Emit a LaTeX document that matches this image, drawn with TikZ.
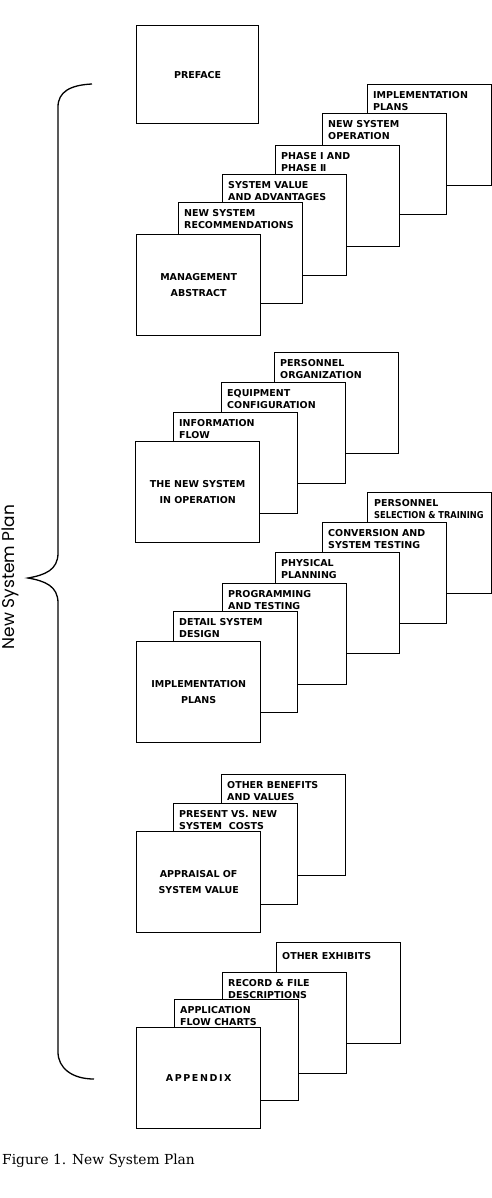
\documentclass[tikz,border=0pt]{standalone}
\usepackage{fontspec}
\setmainfont{DejaVu Serif}
\newfontfamily\pagefont{DejaVu Sans}
\newfontfamily\spinefont{Poppins}
\usetikzlibrary{positioning}
\begin{document}
\begin{tikzpicture}[x=1pt,y=-1pt,
  sheet/.style={draw,fill=white,line width=1.35pt,minimum width=124pt,minimum height=101pt,anchor=north west,inner sep=0pt},
  front/.style={sheet,align=center,font=\pagefont\bfseries\fontsize{9.5}{15.5}\selectfont},
  tab/.style={inner sep=0pt,align=left,font=\pagefont\bfseries\fontsize{9.5}{12.5}\selectfont}]
\useasboundingbox (0,0) rectangle (492,1198);
% brace and the plan's name
\draw[line width=1.3pt] (92,84) .. controls (70,85) and (58,92) .. (58,107) -- (58,553)
  .. controls (58,570) and (45,575) .. (28,578) .. controls (45,581) and (58,586) .. (58,603) -- (58,1052)
  .. controls (58,1068) and (72,1079) .. (94,1079);
\node[rotate=90,font=\spinefont\fontsize{17}{17}\selectfont] (spine) at (10,577) {New System Plan};
% preface
\node[front,minimum width=122pt,minimum height=98pt] (preface) at (136,25) {PREFACE};
% management abstract
\node[sheet] (mgImpl) at (367,84) {};
\node[tab,below right=7pt and 6pt of mgImpl.north west] (tImpl) {IMPLEMENTATION\\PLANS};
\node[sheet] (mgOper) at (322,113) {};
\node[tab,below right=7pt and 6pt of mgOper.north west] (tOper) {NEW SYSTEM\\OPERATION};
\node[sheet] (mgPhase) at (275,145) {};
\node[tab,below right=7pt and 6pt of mgPhase.north west] (tPhase) {PHASE Ⅰ AND\\PHASE Ⅱ};
\node[sheet] (mgVal) at (222,174) {};
\node[tab,below right=7pt and 6pt of mgVal.north west] (tVal) {SYSTEM VALUE\\AND ADVANTAGES};
\node[sheet] (mgRec) at (178,202) {};
\node[tab,below right=7pt and 6pt of mgRec.north west] (tRec) {NEW SYSTEM\\RECOMMENDATIONS};
\node[front] (mgmt) at (136,234) {MANAGEMENT\\ABSTRACT};
% the new system in operation
\node[sheet] (nsPers) at (274,352) {};
\node[tab,below right=7pt and 6pt of nsPers.north west] (tPers) {PERSONNEL\\ORGANIZATION};
\node[sheet] (nsEquip) at (221,382) {};
\node[tab,below right=7pt and 6pt of nsEquip.north west] (tEquip) {EQUIPMENT\\CONFIGURATION};
\node[sheet] (nsInfo) at (173,412) {};
\node[tab,below right=7pt and 6pt of nsInfo.north west] (tInfo) {INFORMATION\\FLOW};
\node[front] (nsOper) at (135,441) {THE NEW SYSTEM\\IN OPERATION};
% implementation plans
\node[sheet] (ipSel) at (367,492) {};
\node[tab,below right=7pt and 7pt of ipSel.north west] (tSel) {PERSONNEL\\\scalebox{0.87}[1]{SELECTION \& TRAINING}};
\node[sheet] (ipConv) at (322,522) {};
\node[tab,below right=7pt and 6pt of ipConv.north west] (tConv) {CONVERSION AND\\SYSTEM TESTING};
\node[sheet] (ipPhys) at (275,552) {};
\node[tab,below right=7pt and 6pt of ipPhys.north west] (tPhys) {PHYSICAL\\PLANNING};
\node[sheet] (ipProg) at (222,583) {};
\node[tab,below right=7pt and 6pt of ipProg.north west] (tProg) {PROGRAMMING\\AND TESTING};
\node[sheet] (ipDesign) at (173,611) {};
\node[tab,below right=7pt and 6pt of ipDesign.north west] (tDesign) {DETAIL SYSTEM\\DESIGN};
\node[front] (ipPlans) at (136,641) {IMPLEMENTATION\\PLANS};
% appraisal of system value
\node[sheet] (apOther) at (221,774) {};
\node[tab,below right=7pt and 6pt of apOther.north west] (tOther) {OTHER BENEFITS\\AND VALUES};
\node[sheet] (apCosts) at (173,803) {};
\node[tab,below right=7pt and 6pt of apCosts.north west] (tCosts) {PRESENT VS. NEW\\SYSTEM\ \ COSTS};
\node[front] (apValue) at (136,831) {APPRAISAL OF\\SYSTEM VALUE};
% appendix
\node[sheet] (axExhibits) at (276,942) {};
\node[tab,below right=10pt and 6pt of axExhibits.north west] (tExhibits) {OTHER EXHIBITS};
\node[sheet] (axRecord) at (222,972) {};
\node[tab,below right=7pt and 6pt of axRecord.north west] (tRecord) {RECORD \& FILE\\DESCRIPTIONS};
\node[sheet] (axFlow) at (174,999) {};
\node[tab,below right=7pt and 6pt of axFlow.north west] (tFlow) {APPLICATION\\FLOW CHARTS};
\node[front] (axApp) at (136,1027) {A\,P\,P\,E\,N\,D\,I\,X};
\node[anchor=base west,inner sep=0pt,font=\fontsize{13.8}{15}\selectfont] (caption) at (2,1164) {Figure 1. New System Plan};
\end{tikzpicture}
\end{document}
